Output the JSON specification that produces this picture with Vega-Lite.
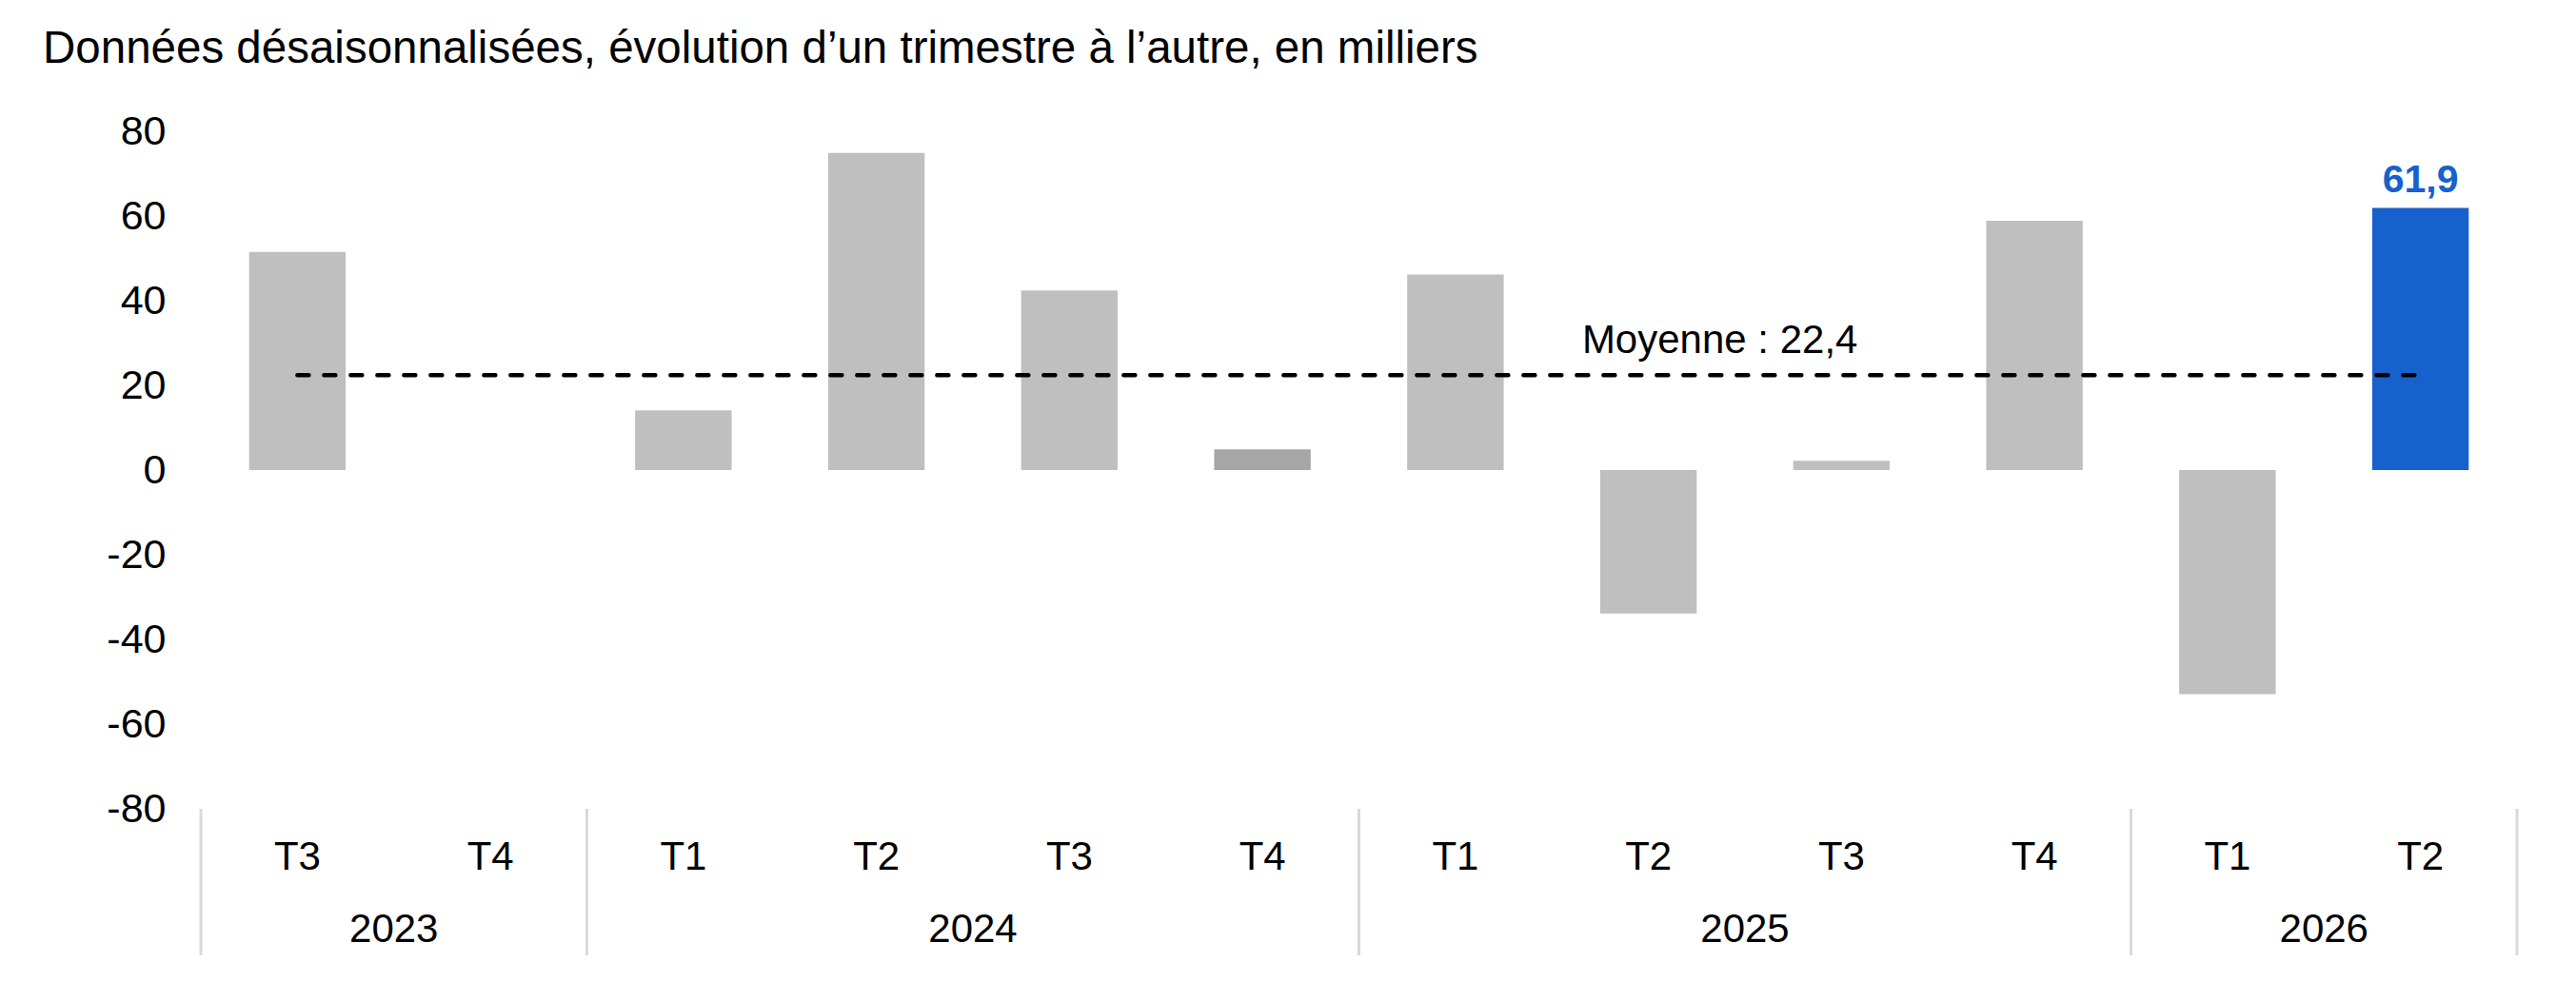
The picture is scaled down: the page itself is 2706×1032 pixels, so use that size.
{
  "$schema": "https://vega.github.io/schema/vega-lite/v6.json",
  "autosize": {"type": "none"},
  "width": 2433,
  "height": 712,
  "padding": {"left": 211, "top": 138, "right": 62, "bottom": 182},
  "background": "white",
  "config": {
    "view": {"stroke": null},
    "font": "Liberation Sans",
    "locale": {"number": {"decimal": ",", "thousands": " ", "grouping": [3], "currency": ["", " €"], "minus": "-"}}
  },
  "title": {
    "text": "Données désaisonnalisées, évolution d’un trimestre à l’autre, en milliers",
    "anchor": "start",
    "frame": "group",
    "font": "Liberation Sans",
    "fontSize": 47.5,
    "fontWeight": "normal",
    "color": "#000000",
    "dx": -166,
    "baseline": "alphabetic",
    "offset": 4
  },
  "datasets": {
    "trimestres": [
      {"k": "2023 T3", "v": 51.5},
      {"k": "2023 T4", "v": 0},
      {"k": "2024 T1", "v": 14.1},
      {"k": "2024 T2", "v": 74.9},
      {"k": "2024 T3", "v": 42.4},
      {"k": "2024 T4", "v": 4.9},
      {"k": "2025 T1", "v": 46.2},
      {"k": "2025 T2", "v": -33.9},
      {"k": "2025 T3", "v": 2.2},
      {"k": "2025 T4", "v": 58.9},
      {"k": "2026 T1", "v": -52.9},
      {"k": "2026 T2", "v": 61.9}
    ],
    "annees": [
      {"year": "2023", "debut": "2023 T3", "milieu": "2023 T3"},
      {"year": "2024", "debut": "2024 T1", "milieu": "2024 T2"},
      {"year": "2025", "debut": "2025 T1", "milieu": "2025 T2"},
      {"year": "2026", "debut": "2026 T1", "milieu": "2026 T1"}
    ],
    "moyenne": [
      {"from": "2023 T3", "to": "2026 T2", "mean": 22.4, "label": "Moyenne : 22,4", "pos": "2025 T2"}
    ]
  },
  "encoding": {
    "x": {
      "field": "k",
      "type": "nominal",
      "sort": null,
      "scale": {"paddingInner": 0, "paddingOuter": 0, "domain": ["2023 T3","2023 T4","2024 T1","2024 T2","2024 T3","2024 T4","2025 T1","2025 T2","2025 T3","2025 T4","2026 T1","2026 T2"]},
      "axis": {
        "title": null,
        "orient": "bottom",
        "labelAngle": 0,
        "labelExpr": "split(datum.label, ' ')[1]",
        "labelFont": "Liberation Sans",
        "labelFontSize": 42,
        "labelColor": "#000000",
        "labelPadding": 30,
        "labelBaseline": "top",
        "ticks": false,
        "domain": false,
        "grid": false
      }
    }
  },
  "layer": [
    {
      "data": {"name": "trimestres"},
      "mark": {"type": "bar", "width": {"band": 0.5}},
      "encoding": {
        "y": {
          "field": "v",
          "type": "quantitative",
          "scale": {"domain": [-80, 80], "nice": false},
          "axis": {
            "title": null,
            "values": [-80, -60, -40, -20, 0, 20, 40, 60, 80],
            "format": "d",
            "labelFont": "Liberation Sans",
            "labelFontSize": 43,
            "labelColor": "#000000",
            "labelPadding": 37,
            "ticks": false,
            "domain": false,
            "grid": false
          }
        },
        "color": {
          "condition": [
            {"test": "datum.k === '2026 T2'", "value": "#1761CC"},
            {"test": "datum.k === '2024 T4'", "value": "#A6A6A6"}
          ],
          "value": "#BFBFBF"
        }
      }
    },
    {
      "data": {"values": [{"zero": 0}]},
      "mark": {"type": "rule", "color": "#D9D9D9", "strokeWidth": 4},
      "encoding": {"y": {"field": "zero", "type": "quantitative"}}
    },
    {
      "data": {"name": "moyenne"},
      "mark": {"type": "rule", "color": "#000000", "strokeWidth": 4.5, "strokeDash": [12, 16], "strokeCap": "round"},
      "encoding": {
        "x": {"field": "from", "type": "nominal"},
        "x2": {"field": "to"},
        "y": {"field": "mean", "type": "quantitative"}
      }
    },
    {
      "data": {"name": "moyenne"},
      "mark": {"type": "text", "font": "Liberation Sans", "fontSize": 42, "color": "#000000", "align": "center", "baseline": "alphabetic", "dy": -23},
      "encoding": {
        "x": {"field": "pos", "type": "nominal", "bandPosition": 0.87},
        "y": {"field": "mean", "type": "quantitative"},
        "text": {"field": "label"}
      }
    },
    {
      "data": {"name": "trimestres"},
      "transform": [{"filter": "datum.k === '2026 T2'"}],
      "mark": {"type": "text", "font": "Liberation Sans", "fontSize": 41, "fontWeight": "bold", "color": "#1761CC", "align": "center", "baseline": "alphabetic", "dy": -17},
      "encoding": {
        "y": {"field": "v", "type": "quantitative"},
        "text": {"field": "v", "type": "quantitative", "format": ".1f"}
      }
    },
    {
      "data": {"name": "annees"},
      "mark": {"type": "rule", "color": "#D9D9D9", "strokeWidth": 3},
      "encoding": {
        "x": {"field": "debut", "type": "nominal", "bandPosition": 0},
        "y": {"datum": -80},
        "y2": {"datum": -114.6}
      }
    },
    {
      "data": {"values": [{"fin": "2026 T2"}]},
      "mark": {"type": "rule", "color": "#D9D9D9", "strokeWidth": 3},
      "encoding": {
        "x": {"field": "fin", "type": "nominal", "bandPosition": 1},
        "y": {"datum": -80},
        "y2": {"datum": -114.6}
      }
    },
    {
      "data": {"name": "annees"},
      "mark": {"type": "text", "font": "Liberation Sans", "fontSize": 42, "color": "#000000", "align": "center", "baseline": "middle"},
      "encoding": {
        "x": {"field": "milieu", "type": "nominal", "bandPosition": 1},
        "y": {"datum": -108.5},
        "text": {"field": "year"}
      }
    }
  ]
}
